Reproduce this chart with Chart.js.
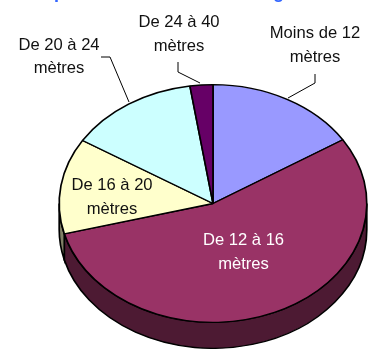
<!DOCTYPE html>
<html>
<head>
<meta charset="utf-8">
<style>
    html, body { margin: 0; padding: 0; background: #fff; overflow: hidden; }
    canvas { display: block; }
</style>
<script src="https://cdn.jsdelivr.net/npm/chart.js@4"></script>
</head>
<body>
<canvas id="pieChart" width="379" height="349"></canvas>
<script>
const categories = ["Moins de 12 mètres", "De 12 à 16 mètres", "De 16 à 20 mètres", "De 20 à 24 mètres", "De 24 à 40 mètres"];
const values = [16, 54.9, 13, 13.7, 2.4];
const colors = ["#9999ff", "#993366", "#ffffcc", "#ccffff", "#660066"];
const sideColors = ["#4d4d80", "#4d1a33", "#808066", "#668080", "#330033"];

// the pie is drawn in a square chart area then stretched sideways into an ellipse
const stretchX = 154 / 119;
const depth = 26;
const labelFont = "16.6px 'Liberation Sans', Arial, sans-serif";

// text lines: [text, x, y, colour]
const labelLines = [
    ["De 24 à 40", 179, 22, "#111"], ["mètres", 179, 46, "#111"],
    ["Moins de 12", 315, 33, "#111"], ["mètres", 315, 57, "#111"],
    ["De 20 à 24", 59, 45, "#111"], ["mètres", 59, 68, "#111"],
    ["De 16 à 20", 112, 185, "#111"], ["mètres", 112, 209, "#111"],
    ["De 12 à 16", 243.5, 240, "#fff"], ["mètres", 243.5, 264, "#fff"]
];
const leaders = [
    [[288, 98], [315, 83], [315, 74]],
    [[200, 83], [178, 72], [178, 62]],
    [[129, 102], [110, 57], [101, 57]]
];
// the title is cut off by the top edge, only these two descenders show
const titleBits = [["p", 54], ["g", 273]];

function drawSide(chart) {
    const ctx = chart.ctx;
    chart.getDatasetMeta(0).data.forEach((arc, i) => {
        const start = Math.max(arc.startAngle, 0);
        const end = Math.min(arc.endAngle, Math.PI);
        if (end <= start) return;
        ctx.beginPath();
        ctx.arc(arc.x, arc.y, arc.outerRadius, start, end);
        ctx.arc(arc.x, arc.y + depth, arc.outerRadius, end, start, true);
        ctx.closePath();
        ctx.fillStyle = sideColors[i];
        ctx.fill();
        ctx.lineWidth = 1.3;
        ctx.strokeStyle = "#000";
        ctx.stroke();
    });
}

const ellipsePlugin = {
    id: "ellipse",
    beforeDatasetsDraw(chart) {
        const ctx = chart.ctx;
        const cx = chart.getDatasetMeta(0).data[0].x;
        ctx.save();
        ctx.translate(cx, 0);
        ctx.scale(stretchX, 1);
        ctx.translate(-cx, 0);
        drawSide(chart);
    },
    afterDatasetsDraw(chart) {
        chart.ctx.restore();
    }
};

const labelPlugin = {
    id: "pieLabels",
    afterDraw(chart) {
        const ctx = chart.ctx;
        ctx.save();
        ctx.strokeStyle = "#000";
        ctx.lineWidth = 1;
        leaders.forEach(pts => {
            ctx.beginPath();
            pts.forEach((p, i) => i ? ctx.lineTo(p[0], p[1]) : ctx.moveTo(p[0], p[1]));
            ctx.stroke();
        });
        ctx.font = labelFont;
        ctx.textAlign = "center";
        ctx.textBaseline = "middle";
        labelLines.forEach(l => {
            ctx.fillStyle = l[3];
            ctx.fillText(l[0], l[1], l[2]);
        });
        ctx.font = "bold 18px 'Liberation Sans', Arial, sans-serif";
        ctx.textAlign = "left";
        ctx.textBaseline = "alphabetic";
        ctx.fillStyle = "#3366ff";
        titleBits.forEach(t => ctx.fillText(t[0], t[1], -2.5));
        ctx.restore();
    }
};

new Chart(document.getElementById("pieChart").getContext("2d"), {
    type: "pie",
    data: {
        labels: categories,
        datasets: [{
            data: values,
            backgroundColor: colors,
            borderColor: "#000",
            borderWidth: 1.3,
            clip: false
        }]
    },
    options: {
        responsive: false,
        animation: false,
        layout: { padding: { left: 93, right: 46, top: 84, bottom: 26 } },
        plugins: {
            legend: { display: false },
            tooltip: { enabled: false }
        }
    },
    plugins: [ellipsePlugin, labelPlugin]
});
</script>
</body>
</html>
